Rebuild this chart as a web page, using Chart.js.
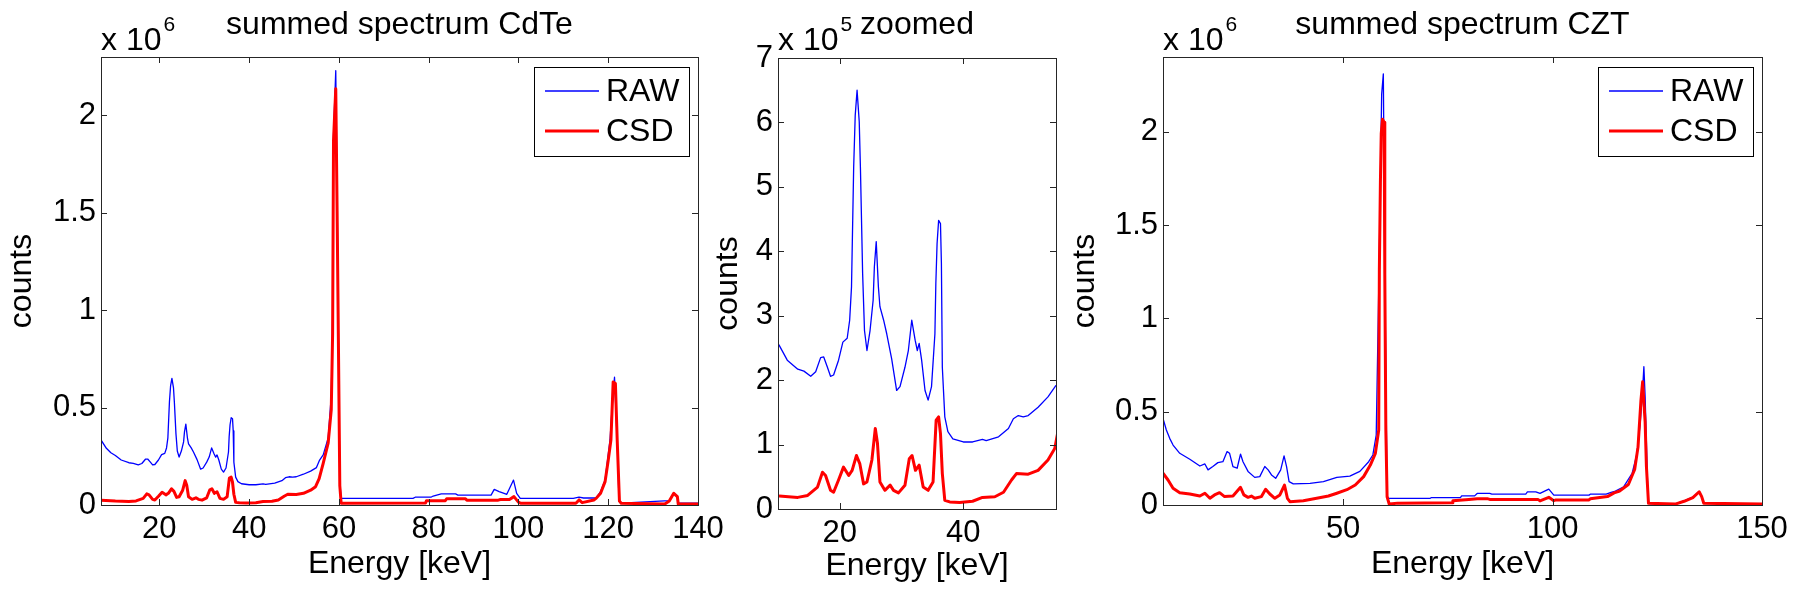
<!DOCTYPE html>
<html>
<head>
<meta charset="utf-8">
<script src="https://cdn.jsdelivr.net/npm/chart.js@4.4.1/dist/chart.umd.min.js"></script>
<style>
  html, body { margin: 0; padding: 0; background: #fff; overflow: hidden; }
  canvas { position: absolute; left: 0; top: 0; }
</style>
</head>
<body>
<canvas id="cdte" width="1800" height="595"></canvas>
<canvas id="zoom" width="1800" height="595"></canvas>
<canvas id="czt" width="1800" height="595"></canvas>
<script>
// counts are in thousands (k counts), energy in keV

// CdTe summed spectrum (also used for the zoomed panel)
const cdteRawEnergy = [7.0, 8.2, 9.2, 10.2, 11.5, 13.2, 14.2, 15.3, 16.1, 16.9, 17.4, 18.0, 18.5, 19.0, 19.8, 20.5, 21.2, 21.6, 21.9, 22.25, 22.5, 22.8, 23.15, 23.35, 23.7, 24.0, 24.4, 24.9, 25.4, 25.6, 25.9, 26.25, 26.5, 27.1, 27.6, 28.4, 29.2, 29.75, 30.55, 31.1, 31.65, 32.2, 32.55, 32.85, 33.25, 33.8, 34.3, 34.85, 35.4, 35.55, 35.75, 36.0, 36.3, 36.45, 36.6, 37.0, 37.5, 38.3, 40.0, 41.5, 43.1, 43.7, 45.7, 47.3, 48.1, 48.9, 49.7, 50.5, 52.1, 53.7, 55.0, 55.7, 56.5, 57.6, 58.3, 58.6, 58.8, 59.3, 59.6, 59.9, 60.2, 60.5, 76.5, 77.0, 80.5, 81.0, 82.8, 86.0, 86.5, 93.9, 94.6, 95.7, 96.8, 97.4, 98.9, 99.6, 100.4, 112.2, 113.5, 114.5, 117.3, 118.3, 119.3, 120.4, 121.0, 121.4, 122.0, 122.4, 123.0, 133.6, 134.6, 135.4, 135.6, 140];
const cdteRawCounts = [334, 291, 268, 254, 231, 217, 214, 206, 213, 235, 236, 220, 206, 208, 231, 259, 265, 293, 345, 531, 611, 650, 601, 526, 365, 277, 246, 277, 324, 376, 415, 345, 314, 293, 272, 233, 184, 190, 220, 246, 293, 262, 246, 257, 231, 184, 169, 190, 272, 350, 412, 448, 443, 381, 220, 143, 120, 109, 104, 104, 108, 106, 112, 125, 140, 145, 143, 145, 158, 174, 192, 231, 257, 343, 560, 950, 1900, 2230, 1600, 850, 120, 34, 34, 40, 40, 46, 57, 57, 51, 51, 80, 69, 60, 55, 128, 60, 34, 34, 40, 36, 36, 69, 128, 334, 550, 656, 330, 20, 10, 22, 62, 45, 10, 10];

const cdteCsdEnergy = [7.0, 10.2, 13.2, 14.8, 16.4, 17.2, 17.7, 18.5, 19.0, 19.8, 20.6, 21.45, 22.0, 22.7, 23.25, 23.85, 24.4, 25.2, 25.75, 26.1, 26.5, 27.3, 28.15, 28.7, 29.5, 30.55, 31.25, 31.7, 32.25, 32.85, 33.5, 34.3, 35.1, 35.6, 36.0, 36.3, 36.6, 37.0, 37.8, 39.4, 41.5, 43.1, 45.1, 46.5, 47.8, 48.6, 50.5, 52.1, 53.7, 54.8, 55.6, 56.5, 57.6, 58.3, 58.6, 58.8, 59.3, 59.6, 59.9, 60.2, 60.5, 79.3, 79.5, 83.7, 84.0, 88.2, 88.5, 95.5, 96.0, 98.0, 99.0, 100.0, 100.5, 112.8, 113.5, 114.2, 116.8, 117.3, 118.3, 119.3, 120.0, 120.6, 121.1, 121.6, 122.0, 122.5, 122.9, 132.6, 133.6, 134.6, 135.4, 135.6, 140];
const cdteCsdCounts = [25, 20, 18, 21, 34, 57, 52, 29, 26, 45, 65, 52, 60, 83, 70, 39, 42, 76, 125, 102, 42, 29, 37, 29, 25, 37, 78, 83, 60, 68, 34, 29, 42, 138, 143, 117, 55, 13.5, 11, 10, 12, 18, 19, 26, 45, 55, 54, 60, 76, 94, 135, 214, 317, 490, 880, 1870, 2137, 1510, 810, 100, 9, 10, 22, 22, 32, 32, 25, 25, 28, 28, 43, 15, 9, 9, 26, 12, 26, 34, 60, 120, 230, 334, 632, 624, 334, 20, 9, 5, 20, 60, 43, 5, 5];

// CZT summed spectrum
const cztRawEnergy = [7.0, 7.8, 8.6, 9.4, 11.0, 13.4, 15.8, 17.0, 17.75, 18.9, 20.1, 21.3, 22.3, 22.9, 23.7, 24.7, 25.5, 26.1, 27.3, 28.9, 30.1, 31.3, 32.1, 32.9, 33.9, 35.1, 35.9, 36.5, 37.1, 38.1, 42.1, 45.3, 48.5, 51.6, 54.0, 56.1, 57.1, 57.9, 58.65, 59.2, 59.6, 59.95, 60.5, 60.8, 70.8, 71.0, 78.0, 78.3, 81.4, 82.0, 85.0, 85.5, 93.6, 94.0, 96.0, 97.0, 99.1, 100.3, 108.7, 109.0, 112.8, 113.8, 115.0, 117.0, 119.0, 120.1, 120.9, 121.4, 121.8, 122.1, 122.4, 122.8, 123.2, 129.3, 131.4, 133.5, 135.0, 135.6, 136.1, 150];
const cztRawCounts = [464, 402, 357, 321, 277, 245, 209, 220, 188, 206, 227, 232, 286, 277, 206, 197, 273, 232, 180, 148, 152, 206, 188, 161, 143, 188, 263, 206, 125, 113, 116, 125, 148, 155, 180, 232, 268, 375, 1350, 2200, 2310, 1250, 50, 36, 36, 39, 39, 49, 49, 62, 62, 58, 58, 70, 70, 62, 85, 53, 53, 58, 58, 66, 75, 98, 170, 270, 430, 580, 741, 580, 340, 20, 8, 6, 22, 42, 72, 46, 10, 5];

const cztCsdEnergy = [7.0, 8.2, 9.4, 11.0, 13.4, 15.8, 17.0, 18.2, 19.3, 20.5, 21.7, 23.7, 25.5, 26.3, 27.3, 28.1, 28.9, 30.5, 31.5, 32.5, 33.7, 34.9, 36.0, 36.7, 37.3, 40.5, 43.7, 46.5, 48.5, 50.9, 52.9, 54.9, 56.5, 57.7, 58.5, 58.65, 58.9, 59.1, 59.4, 59.8, 59.95, 60.2, 60.5, 61.0, 63.0, 76.0, 76.2, 80.0, 82.0, 84.4, 85.0, 96.5, 97.0, 99.1, 100.3, 100.8, 108.7, 109.0, 113.1, 114.7, 116.0, 118.1, 119.6, 120.4, 121.1, 121.5, 122.1, 122.4, 122.9, 129.3, 131.4, 133.5, 135.0, 135.6, 136.1, 150];
const cztCsdCounts = [170, 134, 90, 66, 59, 48, 63, 36, 54, 66, 45, 48, 95, 54, 41, 48, 36, 45, 84, 59, 36, 54, 107, 36, 18, 23, 36, 48, 63, 82, 107, 152, 214, 277, 402, 1260, 1727, 1990, 2067, 2050, 1240, 400, 44, 5, 10, 12, 23, 30, 34, 34, 30, 30, 22, 41, 23, 27, 27, 33, 45, 65, 75, 110, 190, 310, 560, 660, 445, 210, 9, 5, 20, 40, 71, 45, 9, 5];

// tick values
const cdteXTicks = [20, 40, 60, 80, 100, 120, 140];
const cdteYTicks = [0, 500, 1000, 1500, 2000];
const zoomXTicks = [20, 40];
const zoomYTicks = [0, 100, 200, 300, 400, 500, 600, 700];
const cztXTicks = [50, 100, 150];
const cztYTicks = [0, 500, 1000, 1500, 2000];

const FONT = '"Liberation Sans", Arial, sans-serif';
const AXIS = '#262626';

const toPoints = (xs, ys) => xs.map((e, i) => ({ x: e, y: ys[i] }));

// MATLAB style box: frame, inward ticks, title, exponent and legend
const matlabFrame = {
    id: 'matlabFrame',
    afterDatasetsDraw(chart, args, opts) {
        const { ctx, chartArea: a, scales: { x, y } } = chart;
        ctx.save();
        ctx.strokeStyle = AXIS;
        ctx.lineWidth = 1;
        ctx.strokeRect(Math.round(a.left) + 0.5, Math.round(a.top) + 0.5,
            Math.round(a.width), Math.round(a.height));

        ctx.beginPath();
        x.ticks.forEach(t => {
            const px = Math.round(x.getPixelForValue(t.value)) + 0.5;
            ctx.moveTo(px, a.bottom); ctx.lineTo(px, a.bottom - 6);
            ctx.moveTo(px, a.top); ctx.lineTo(px, a.top + 6);
        });
        y.ticks.forEach(t => {
            const py = Math.round(y.getPixelForValue(t.value)) + 0.5;
            ctx.moveTo(a.left, py); ctx.lineTo(a.left + 6, py);
            ctx.moveTo(a.right, py); ctx.lineTo(a.right - 6, py);
        });
        ctx.stroke();

        ctx.fillStyle = '#000';
        ctx.textBaseline = 'alphabetic';

        // exponent
        ctx.font = '32px ' + FONT;
        ctx.textAlign = 'left';
        ctx.fillText('x 10', a.left, 50);
        const w = ctx.measureText('x 10').width;
        ctx.font = '21px ' + FONT;
        ctx.fillText(opts.exponent, a.left + w + 2, 31);

        // title
        ctx.font = '32px ' + FONT;
        ctx.textAlign = 'center';
        ctx.fillText(opts.title, (a.left + a.right) / 2, 34);

        // legend
        if (opts.legend) {
            const bw = 155, bh = 89;
            const bx = a.right - 9 - bw, by = a.top + 10;
            ctx.fillStyle = '#fff';
            ctx.fillRect(bx, by, bw, bh);
            ctx.strokeStyle = '#000';
            ctx.strokeRect(Math.round(bx) + 0.5, Math.round(by) + 0.5, bw, bh);
            const rows = [24, 64];
            [...chart.data.datasets].sort((p, q) => p.legendRow - q.legendRow).forEach((ds, i) => {
                const ry = by + rows[i];
                ctx.strokeStyle = ds.borderColor;
                ctx.lineWidth = ds.borderWidth;
                ctx.beginPath();
                ctx.moveTo(bx + 11, ry);
                ctx.lineTo(bx + 65, ry);
                ctx.stroke();
                ctx.fillStyle = '#000';
                ctx.font = '32px ' + FONT;
                ctx.textAlign = 'left';
                ctx.textBaseline = 'middle';
                ctx.fillText(ds.label, bx + 72, ry + 1);
            });
        }
        ctx.restore();
    }
};

function makeChart(id, p) {
    const tickFont = { family: FONT, size: 31 };
    const labelFont = { family: FONT, size: 32 };
    new Chart(document.getElementById(id), {
        type: 'line',
        data: {
            datasets: [
                {
                    label: 'RAW',
                    data: toPoints(p.rawE, p.rawC),
                    borderColor: '#0000ff',
                    borderWidth: 1.3,
                    order: 1,
                    legendRow: 0
                },
                {
                    label: 'CSD',
                    data: toPoints(p.csdE, p.csdC),
                    borderColor: '#ff0000',
                    borderWidth: 3,
                    order: 0,
                    legendRow: 1
                }
            ]
        },
        options: {
            responsive: false,
            animation: false,
            devicePixelRatio: 1,
            events: [],
            elements: {
                point: { radius: 0 },
                line: { tension: 0, borderJoinStyle: 'round', fill: false }
            },
            layout: {
                padding: {
                    left: p.box.left - p.yw,
                    top: p.box.top,
                    right: 1800 - p.box.right,
                    bottom: 595 - p.box.bottom - p.xh
                }
            },
            plugins: {
                legend: { display: false },
                tooltip: { enabled: false },
                matlabFrame: { title: p.title, exponent: p.exponent, legend: p.legend }
            },
            scales: {
                x: {
                    type: 'linear',
                    min: p.xmin,
                    max: p.xmax,
                    afterBuildTicks: s => { s.ticks = p.xTicks.map(v => ({ value: v })); },
                    afterFit: s => { s.height = p.xh; },
                    grid: { display: false, drawTicks: false },
                    border: { display: false },
                    ticks: { font: tickFont, color: '#000', padding: 6, maxRotation: 0, autoSkip: false },
                    title: { display: true, text: 'Energy [keV]', font: labelFont, color: '#000', padding: 0 }
                },
                y: {
                    type: 'linear',
                    min: 0,
                    max: p.ymax,
                    afterBuildTicks: s => { s.ticks = p.yTicks.map(v => ({ value: v })); },
                    afterFit: s => { s.width = p.yw; },
                    grid: { display: false, drawTicks: false },
                    border: { display: false },
                    ticks: {
                        font: tickFont, color: '#000', padding: 5, autoSkip: false,
                        callback: v => String(v / p.unit)
                    },
                    title: { display: true, text: 'counts', font: labelFont, color: '#000', padding: 0 }
                }
            }
        },
        plugins: [matlabFrame]
    });
}

makeChart('cdte', {
    rawE: cdteRawEnergy, rawC: cdteRawCounts, csdE: cdteCsdEnergy, csdC: cdteCsdCounts,
    xmin: 7, xmax: 140, ymax: 2300, xTicks: cdteXTicks, yTicks: cdteYTicks, unit: 1000,
    box: { left: 101, top: 57, right: 698, bottom: 505 }, yw: 98, xh: 78,
    title: 'summed spectrum CdTe', exponent: '6', legend: true
});

makeChart('zoom', {
    rawE: cdteRawEnergy, rawC: cdteRawCounts, csdE: cdteCsdEnergy, csdC: cdteCsdCounts,
    xmin: 10, xmax: 55, ymax: 700, xTicks: zoomXTicks, yTicks: zoomYTicks, unit: 100,
    box: { left: 778, top: 58, right: 1056, bottom: 509 }, yw: 69, xh: 76,
    title: 'zoomed', exponent: '5', legend: false
});

makeChart('czt', {
    rawE: cztRawEnergy, rawC: cztRawCounts, csdE: cztCsdEnergy, csdC: cztCsdCounts,
    xmin: 7, xmax: 150, ymax: 2400, xTicks: cztXTicks, yTicks: cztYTicks, unit: 1000,
    box: { left: 1163, top: 57, right: 1762, bottom: 505 }, yw: 97, xh: 78,
    title: 'summed spectrum CZT', exponent: '6', legend: true
});
</script>
</body>
</html>
